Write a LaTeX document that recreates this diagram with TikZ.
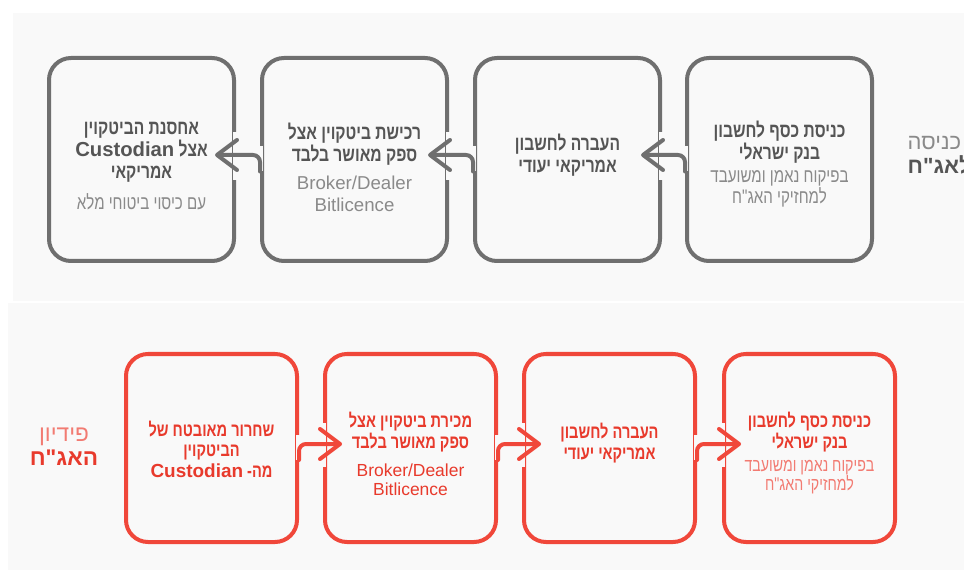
\documentclass[tikz,border=0pt]{standalone}
\usepackage{fontspec}
\newfontfamily\hebfont[Script=Hebrew,FakeStretch=0.77]{Liberation Sans}
\newfontfamily\plainfont[Script=Hebrew]{Liberation Sans}
\newfontfamily\latfont{Liberation Sans}
\TeXXeTstate=1
\usetikzlibrary{arrows.meta,calc}
\newcommand\rtl[1]{\beginR #1\endR}
\definecolor{panel}{HTML}{F9F9F9}
\definecolor{greyline}{HTML}{6F6F6F}
\definecolor{greytext}{HTML}{555555}
\definecolor{greysub}{HTML}{8A8A8A}
\definecolor{redline}{HTML}{F0473A}
\definecolor{redtext}{HTML}{E83A2C}
\definecolor{redsub}{HTML}{F27B72}
\tikzset{stepbox/.style={rectangle,rounded corners=16.5pt,line width=3pt,fill=panel,inner sep=0pt},
  topbox/.style={stepbox,draw=greyline,minimum width=138.75pt,minimum height=152.25pt},
  botbox/.style={stepbox,draw=redline,minimum width=128.25pt,minimum height=141pt},
  cutgap/.style={line width=4.5pt,draw=panel},
  link/.style={line width=3pt,line cap=round,rounded corners=5.25pt,-{Straight Barb[length=15pt,width=22.5pt,round]}},
  tophead/.style={align=center,text=greytext,font=\hebfont\bfseries\fontsize{15.2}{16.6}\selectfont},
  topsub/.style={align=center,text=greysub,font=\hebfont\fontsize{14.7}{13}\selectfont},
  toplatin/.style={align=center,text=greysub,font=\latfont\fontsize{14}{16.5}\selectfont},
  bothead/.style={align=center,text=redtext,font=\hebfont\bfseries\fontsize{14.2}{15.4}\selectfont},
  botsub/.style={align=center,text=redsub,font=\hebfont\fontsize{13.8}{14.6}\selectfont},
  botlatin/.style={align=center,text=redtext,font=\latfont\fontsize{13.1}{14.6}\selectfont}}
\begin{document}
\begin{tikzpicture}[x=0.75pt,y=-0.75pt]
                \useasboundingbox[fill=white] (0,0) rectangle (964,570);
                \clip (0,0) rectangle (964,570);
                \fill[panel] (13,13) rectangle (964,301);
                \fill[panel] (8,303) rectangle (964,570);

                % entry row
                \foreach \i/\x in {1/141.5,2/354.5,3/567.5,4/779.5}{\node[topbox] (in\i) at (\x,159.5) {};}
                \foreach \s/\d in {4/3,3/2,2/1}{
                    \draw[cutgap] ($(in\d.east)+(0,-27.5)$) -- ($(in\d.east)+(0,20.5)$);
                    \draw[cutgap] ($(in\s.west)+(0,-13.5)$) -- ($(in\s.west)+(0,12)$);
                    \draw[link,draw=greyline] ($(in\s.west)+(0,12)$) |- ($(in\d.east)+(-21,-4.5)$);
                }
                \node[tophead] (in1head) at ($(in1)+(0,-7)$) {\rtl{אחסנת הביטקוין}\\\rtl{אצל {\latfont Custodian}}\\\rtl{אמריקאי}};
                \node[topsub] (in1sub) at ($(in1)+(0,42.5)$) {\rtl{עם כיסוי ביטוחי מלא}};
                \node[tophead] (in2head) at ($(in2)+(0,-15)$) {\rtl{רכישת ביטקוין אצל}\\\rtl{ספק מאושר בלבד}};
                \node[toplatin] (in2sub) at ($(in2)+(0,34.5)$) {Broker/Dealer\\Bitlicence};
                \node[tophead] (in3head) at ($(in3)+(0,-4)$) {\rtl{העברה לחשבון}\\\rtl{אמריקאי יעודי}};
                \node[tophead] (in4head) at ($(in4)+(0,-17.5)$) {\rtl{כניסת כסף לחשבון}\\\rtl{בנק ישראלי}};
                \node[topsub] (in4sub) at ($(in4)+(0,29)$) {\rtl{בפיקוח נאמן ומשועבד}\\\rtl{למחזיקי האג"ח}};
                \node[align=left,anchor=west,font=\plainfont\fontsize{16.5}{18}\selectfont] (inlabel) at (903,155)
                    {{\color{greysub}\rtl{כניסה}}\\{\bfseries\color{greytext}\rtl{לאג"ח}}};

                % redemption row
                \foreach \i/\x in {1/211.5,2/410.5,3/609.5,4/809.5}{\node[botbox] (out\i) at (\x,448) {};}
                \foreach \s/\d in {1/2,2/3,3/4}{
                    \draw[cutgap] ($(out\d.west)+(0,-25)$) -- ($(out\d.west)+(0,19)$);
                    \draw[cutgap] ($(out\s.east)+(0,-13)$) -- ($(out\s.east)+(0,12)$);
                    \draw[link,draw=redline] ($(out\s.east)+(0,12)$) |- ($(out\d.west)+(19,-4)$);
                }
                \node[bothead] (out1head) at ($(out1)+(0,1)$) {\rtl{שחרור מאובטח של}\\\rtl{הביטקוין}\\\rtl{מה\kern0pt- {\latfont Custodian}}};
                \node[bothead] (out2head) at ($(out2)+(0,-16)$) {\rtl{מכירת ביטקוין אצל}\\\rtl{ספק מאושר בלבד}};
                \node[botlatin] (out2sub) at ($(out2)+(0,31.5)$) {Broker/Dealer\\Bitlicence};
                \node[bothead] (out3head) at ($(out3)+(0,-5)$) {\rtl{העברה לחשבון}\\\rtl{אמריקאי יעודי}};
                \node[bothead] (out4head) at ($(out4)+(0,-16)$) {\rtl{כניסת כסף לחשבון}\\\rtl{בנק ישראלי}};
                \node[botsub] (out4sub) at ($(out4)+(0,29)$) {\rtl{בפיקוח נאמן ומשועבד}\\\rtl{למחזיקי האג"ח}};
                \node[align=center,font=\plainfont\fontsize{17}{18}\selectfont] (outlabel) at (64,447)
                    {{\color{redsub}\rtl{פידיון}}\\{\bfseries\color{redtext}\rtl{האג"ח}}};
            \end{tikzpicture}
\end{document}
